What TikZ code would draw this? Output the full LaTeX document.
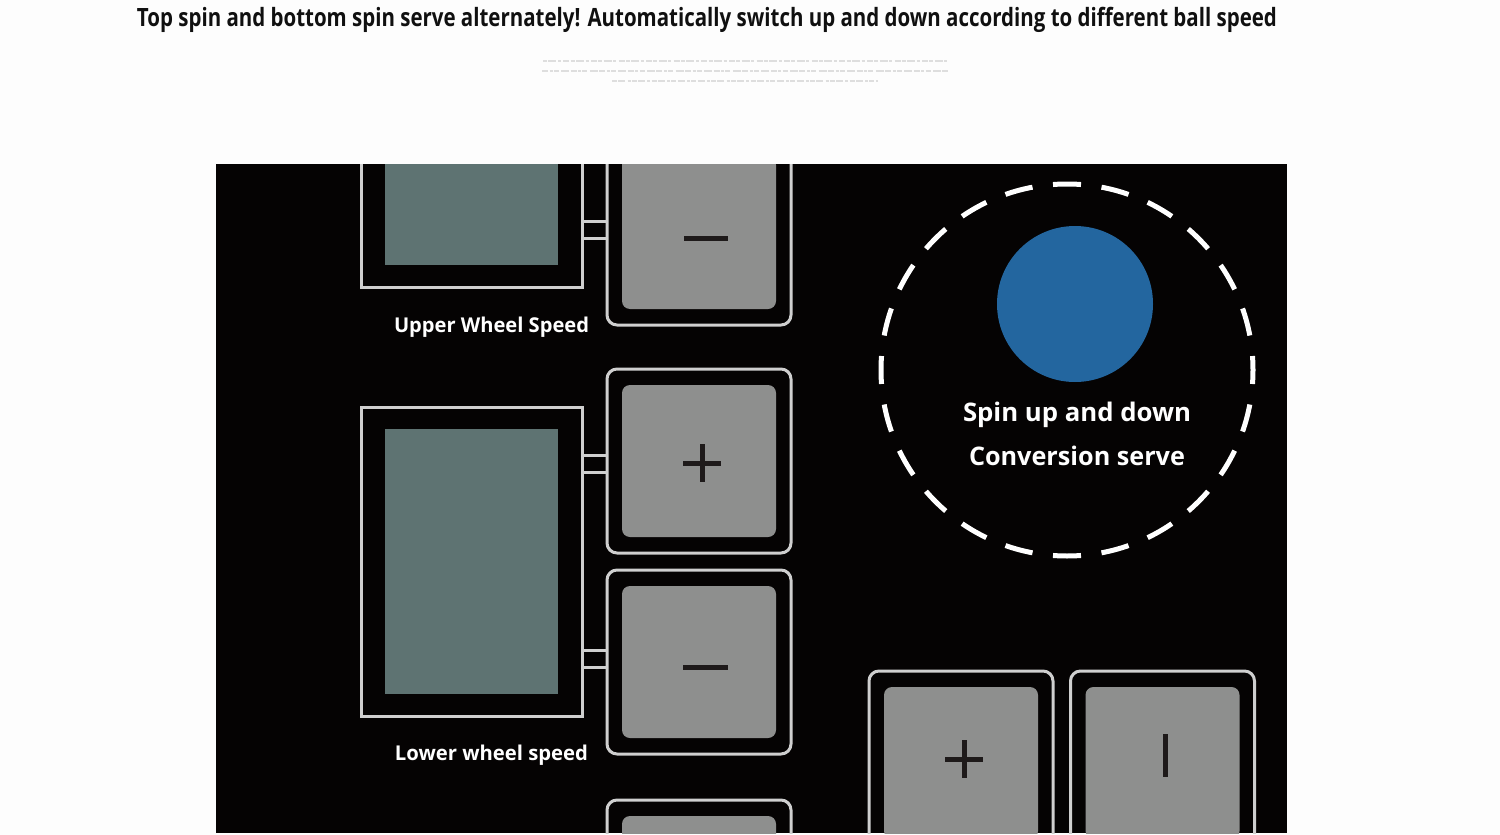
\documentclass[tikz,border=0pt]{standalone}
\usepackage{fontspec}
\setmainfont{Open Sans}
\usetikzlibrary{calc}
\definecolor{framec}{HTML}{CFCFCF}
\definecolor{screenc}{HTML}{5E7372}
\definecolor{keyc}{HTML}{8E8F8E}
\definecolor{symc}{HTML}{1E1A1A}
\definecolor{ballc}{HTML}{23669F}
\definecolor{titlec}{HTML}{101010}
\definecolor{panelc}{HTML}{050303}
\definecolor{bgc}{HTML}{FDFDFD}
\definecolor{faintc}{HTML}{DEDEDE}
\newcommand\fitw[2]{\resizebox{#1}{\height}{#2}}
\begin{document}
\begin{tikzpicture}[x=0.5pt,y=-0.5pt,
  frame/.style={draw=framec,line width=1.5pt},
  dispframe/.style={frame,minimum width=110.5pt,minimum height=154.5pt,inner sep=0pt,outer sep=0pt},
  screen/.style={fill=screenc,minimum width=86.5pt,minimum height=132.5pt,inner sep=0pt},
  keyframe/.style={frame,rounded corners=5pt,minimum width=92pt,minimum height=92pt,inner sep=0pt,outer sep=0pt},
  keyface/.style={fill=keyc,rounded corners=4pt,minimum width=77pt,minimum height=76pt,inner sep=0pt},
  sym/.style={draw=symc,line width=2.5pt},
  lbl/.style={text=white,font=\bfseries\fontsize{10.2}{12}\selectfont,inner sep=0pt,anchor=base},
  spin/.style={text=white,font=\bfseries\fontsize{12.8}{15}\selectfont,inner sep=0pt,anchor=base},
  faint/.style={draw=faintc,line width=1.4pt}
]
\useasboundingbox (0,0) rectangle (1500,835);
\fill[bgc] (0,0) rectangle (1500,835);

% title
\node[anchor=base,inner sep=0pt,text=titlec,font=\bfseries\fontsize{12.6}{14}\selectfont] (title) at (707,26)
  {\fitw{570pt}{Top spin and bottom spin serve alternately! Automatically switch up and down according to different ball speed}};

% faint illegible sub-text (drawn as faint strokes)
\draw[faint,dash pattern=on 2pt off 0.7pt on 4pt off 0.8pt on 1.5pt off 1.2pt on 3pt off 0.6pt] (543,61) -- (947,61);
\draw[faint,dash pattern=on 3pt off 0.8pt on 1.5pt off 0.6pt on 2.5pt off 1.2pt on 4pt off 0.7pt] (542,71) -- (948,71);
\draw[faint,dash pattern=on 2.5pt off 0.7pt on 3.5pt off 1.1pt on 1.5pt off 0.6pt] (612,81) -- (878,81);

% panel
\fill[panelc] (216,164) rectangle (1287,833);

\begin{scope}
\clip (216,164) rectangle (1287,833);

% displays
\node[dispframe] (d1) at (471.5,132.5) {};
\node[screen] (s1) at (471.5,132.5) {};
\node[dispframe] (d2) at (471.5,561.5) {};
\node[screen] (s2) at (471.5,561.5) {};

% keys
\node[keyframe] (k1) at (699,233) {};
\node[keyface] (f1) at (699,233) {};
\node[keyframe] (k2) at (699,461) {};
\node[keyface] (f2) at (699,461) {};
\node[keyframe] (k3) at (699,662) {};
\node[keyface] (f3) at (699,662) {};
\node[keyframe] (k4) at (699,892) {};
\node[keyface] (f4) at (699,892) {};
\node[keyframe] (k5) at (961,763) {};
\node[keyface] (f5) at (961,763) {};
\node[keyframe] (k6) at (1162.5,763) {};
\node[keyface] (f6) at (1162.5,763) {};

% connectors (double lines)
\foreach \k/\d/\a/\b in {k1/d1/-12/5, k2/d2/-6/11, k3/d2/-12/5}{
  \draw[frame] ($(\k.west)+(0,\a)$) -- ($(\d.east |- \k.west)+(0,\a)$);
  \draw[frame] ($(\k.west)+(0,\b)$) -- ($(\d.east |- \k.west)+(0,\b)$);
}

% symbols
\draw[sym] ($(f1.center)+(-15,5)$) -- ($(f1.center)+(29,5)$);
\draw[sym] ($(f2.center)+(-16,2)$) -- ($(f2.center)+(22,2)$);
\draw[sym] ($(f2.center)+(3,-17)$) -- ($(f2.center)+(3,21)$);
\draw[sym] ($(f3.center)+(-16,5)$) -- ($(f3.center)+(29,5)$);
\draw[sym] ($(f5.center)+(-16,-4)$) -- ($(f5.center)+(22,-4)$);
\draw[sym] ($(f5.center)+(3,-23)$) -- ($(f5.center)+(3,15)$);
\draw[sym] ($(f6.center)+(2.5,-29)$) -- ($(f6.center)+(2.5,14)$);
\end{scope}

% labels
\node[lbl] (l1) at (491.5,332) {\fitw{97.5pt}{Upper Wheel Speed}};
\node[lbl] (l2) at (491.5,760) {\fitw{96.5pt}{Lower wheel speed}};

% spin indicator
\node[circle,draw=white,line width=2.5pt,minimum size=186pt,inner sep=0pt,
      dash pattern=on 14pt off 10.35pt,dash phase=7pt] (ring) at (1067,370) {};
\node[circle,fill=ballc,minimum size=78pt,inner sep=0pt] (ball) at (1075,304) {};
\node[spin] (t1) at (1077,421) {\fitw{114pt}{Spin up and down}};
\node[spin] (t2) at (1077,465) {\fitw{108pt}{Conversion serve}};
\end{tikzpicture}
\end{document}
